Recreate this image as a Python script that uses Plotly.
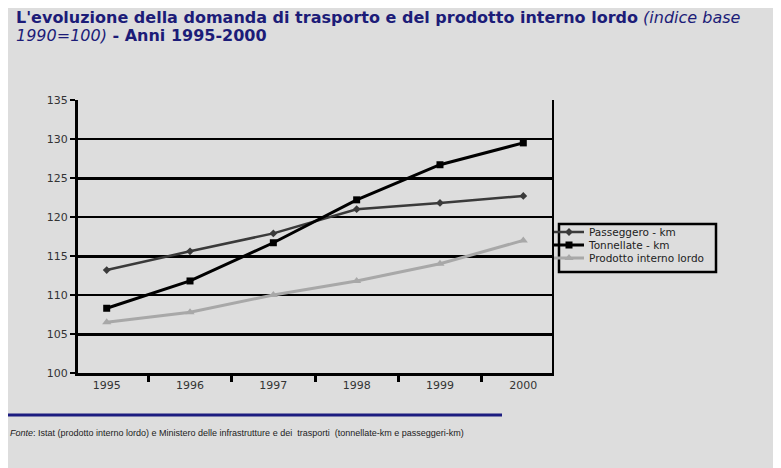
import plotly.graph_objects as go

years = ["1995", "1996", "1997", "1998", "1999", "2000"]
passeggero = [113.2, 115.6, 117.9, 121.0, 121.8, 122.7]
tonnellate = [108.3, 111.8, 116.7, 122.2, 126.7, 129.5]
pil = [106.5, 107.8, 110.0, 111.8, 114.0, 117.0]
y_ticks = [100, 105, 110, 115, 120, 125, 130, 135]
thick_grid = [105, 115, 125, 135]

# page body has an 8px margin; work in reference pixel coordinates
OFF = 8
W, H = 781 - OFF, 468 - OFF
RL, RR, RT, RB = 78, 552, 100, 373          # plot area in reference pixels
L, R, T, B = RL - OFF, RR - OFF, RT - OFF, RB - OFF

WIDE = "DejaVu Sans, Verdana, sans-serif"
NARROW = "Liberation Sans, Arial, sans-serif"


def px(x):
    return (x - RL) / (RR - RL)


def py(y):
    return (RB - y) / (RB - RT)


fig = go.Figure()
fig.add_trace(go.Scatter(x=years, y=passeggero, name="Passeggero - km", mode="lines+markers",
                         line=dict(color="#3a3a3a", width=2.5), legend="legend",
                         marker=dict(symbol="diamond", size=6, color="#3a3a3a")))
fig.add_trace(go.Scatter(x=years, y=tonnellate, name="Tonnellate - km", mode="lines+markers",
                         line=dict(color="#000000", width=3), legend="legend2",
                         marker=dict(symbol="square", size=7, color="#000000")))
fig.add_trace(go.Scatter(x=years, y=pil, name="Prodotto interno lordo", mode="lines+markers",
                         line=dict(color="#a8a8a8", width=3), legend="legend3",
                         marker=dict(symbol="triangle-up", size=8, color="#a8a8a8")))
# helper trace for the overlay axis (thick gridlines / right border)
fig.add_trace(go.Scatter(x=years, y=pil, yaxis="y2", mode="lines", opacity=0,
                         showlegend=False, hoverinfo="skip"))

leg_common = dict(xanchor="left", yanchor="middle", borderwidth=0,
                  bgcolor="rgba(0,0,0,0)", font=dict(family=WIDE, size=10.5, color="#222222"),
                  itemwidth=30)
leg_x = px(549)

fig.update_layout(
    width=W, height=H,
    margin=dict(l=L, r=W - R, t=T, b=H - B),
    paper_bgcolor="#dddddd", plot_bgcolor="#dddddd",
    font=dict(family=NARROW, color="#333333", size=10),
    xaxis=dict(type="category", showline=True, linewidth=3, linecolor="#000000",
               ticks="outside", tickson="boundaries", ticklen=6, tickwidth=3,
               tickcolor="#000000", showgrid=False, zeroline=False,
               tickfont=dict(family=WIDE, size=11, color="#333333")),
    yaxis=dict(range=[100, 135], tickvals=y_ticks, showline=True, linewidth=3,
               linecolor="#000000", ticks="outside", ticklen=5, tickwidth=1.5,
               tickcolor="#000000", showgrid=True, gridcolor="#000000", gridwidth=1.5,
               zeroline=False, tickfont=dict(family=WIDE, size=11, color="#333333")),
    yaxis2=dict(range=[100, 135], overlaying="y", side="right", tickvals=thick_grid,
                showticklabels=False, ticks="", showgrid=True, gridcolor="#000000",
                gridwidth=3, showline=True, linewidth=1.5, linecolor="#000000",
                zeroline=False),
    legend=dict(x=leg_x, y=py(232), **leg_common),
    legend2=dict(x=leg_x, y=py(245), **leg_common),
    legend3=dict(x=leg_x, y=py(258), **leg_common),
    showlegend=True,
)

# legend frame
fig.add_shape(type="rect", xref="paper", yref="paper",
              x0=px(559), x1=px(716), y0=py(272), y1=py(224),
              line=dict(color="#000000", width=2.5))

title_font = dict(family=WIDE, size=16, color="#1c1c78")
fig.add_annotation(xref="paper", yref="paper", x=px(14), y=py(18),
                   xanchor="left", yanchor="middle", align="left", showarrow=False,
                   text="<b>L'evoluzione della domanda di trasporto e del prodotto interno lordo</b> "
                        "<i>(indice base</i>",
                   font=title_font)
fig.add_annotation(xref="paper", yref="paper", x=px(14), y=py(36),
                   xanchor="left", yanchor="middle", align="left", showarrow=False,
                   text="<i>1990=100)</i><b> - Anni 1995-2000</b>",
                   font=title_font)

# separator line
fig.add_shape(type="line", xref="paper", yref="paper",
              x0=px(8), x1=px(502), y0=py(415), y1=py(415),
              line=dict(color="#1c1c80", width=3))

# source note
fig.add_annotation(xref="paper", yref="paper", x=px(8), y=py(433),
                   xanchor="left", yanchor="middle", showarrow=False,
                   text="<i>Fonte</i>: Istat (prodotto interno lordo) e Ministero delle infrastrutture e dei  trasporti  (tonnellate-km e passeggeri-km)",
                   font=dict(family=NARROW, size=9, color="#222222"))

fig.write_html("out.html")
